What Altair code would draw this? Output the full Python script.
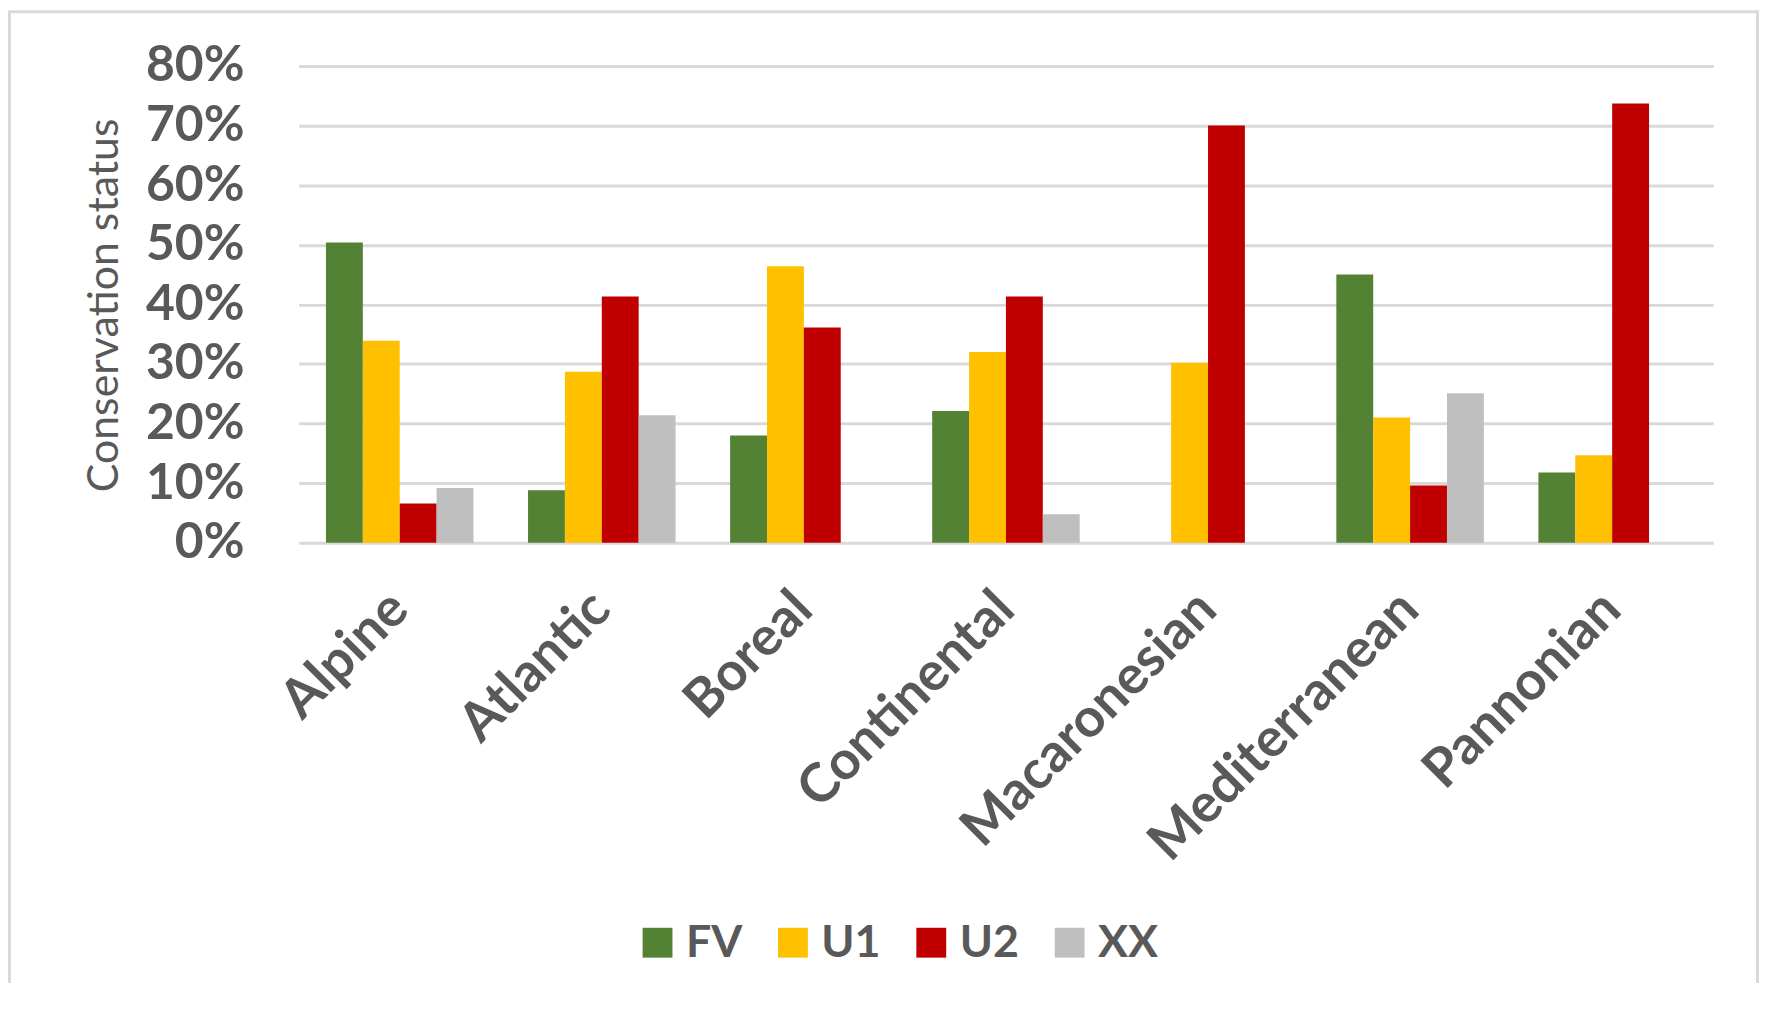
import altair as alt
import pandas as pd

regions = ["Alpine", "Atlantic", "Boreal", "Continental", "Macaronesian", "Mediterranean", "Pannonian"]
statuses = ["FV", "U1", "U2", "XX"]
fv = [0.504, 0.088, 0.180, 0.221, 0.0, 0.450, 0.118]
u1 = [0.339, 0.287, 0.464, 0.320, 0.302, 0.210, 0.147]
u2 = [0.066, 0.413, 0.361, 0.413, 0.700, 0.096, 0.737]
xx = [0.092, 0.214, 0.0, 0.048, 0.0, 0.251, 0.0]
colors = ["#548235", "#FFC000", "#C00000", "#BFBFBF"]

rows = []
for i, r in enumerate(regions):
    for s, vals in zip(statuses, [fv, u1, u2, xx]):
        rows.append({"region": r, "status": s, "value": vals[i]})
df = pd.DataFrame(rows)

FONT = "Lato"
TXT = "#595959"

bars = alt.Chart(df).mark_bar().encode(
    x=alt.X("region:N", sort=regions,
            scale=alt.Scale(paddingInner=0.27, paddingOuter=0.135),
            axis=alt.Axis(title=None, labelAngle=315, labelAlign="right", labelBaseline="middle",
                          labelPadding=58, labelFont=FONT, labelFontSize=54, labelFontWeight="bold",
                          labelColor=TXT, labelLimit=1000, domain=False, ticks=False, grid=False)),
    xOffset=alt.XOffset("status:N", sort=statuses, scale=alt.Scale(paddingInner=0, paddingOuter=0)),
    y=alt.Y("value:Q", scale=alt.Scale(domain=[0, 0.8], nice=False),
            axis=alt.Axis(title="Conservation status", format=".0%",
                          values=[0, 0.1, 0.2, 0.3, 0.4, 0.5, 0.6, 0.7, 0.8],
                          labelFont=FONT, labelFontSize=50, labelFontWeight="bold", labelColor=TXT,
                          labelPadding=55, domain=False, ticks=False,
                          grid=True, gridColor="#D9D9D9", gridWidth=3,
                          titleFont=FONT, titleFontSize=43, titleFontWeight="normal", titleColor=TXT,
                          titleX=-182, titleY=240, titleAngle=270, titleAlign="center",
                          titleBaseline="alphabetic")),
    color=alt.Color("status:N", sort=statuses,
                    scale=alt.Scale(domain=statuses, range=colors),
                    legend=alt.Legend(title=None, orient="none", direction="horizontal",
                                      legendX=338, legendY=858, symbolType="square",
                                      symbolSize=900, symbolStrokeWidth=0, labelFont=FONT,
                                      labelFontSize=45, labelFontWeight="bold", labelColor=TXT,
                                      labelOffset=6, columnPadding=28)),
)

frame_df = pd.DataFrame({"k": [1]})
frame = alt.Chart(frame_df).mark_rect(filled=False, stroke="#D9D9D9", strokeWidth=3).encode(
    x=alt.value(-290.5), x2=alt.value(1465.5), y=alt.value(-54.5), y2=alt.value(1100)
)

chart = alt.layer(frame, bars).properties(
    width=1421, height=479,
    background="white",
    autosize=alt.AutoSizeParams(type="none"),
    padding={"left": 292, "top": 56, "right": 46, "bottom": 440},
).configure_view(strokeWidth=0)

chart.save("out.html", embed_options={"renderer": "svg", "actions": False})
